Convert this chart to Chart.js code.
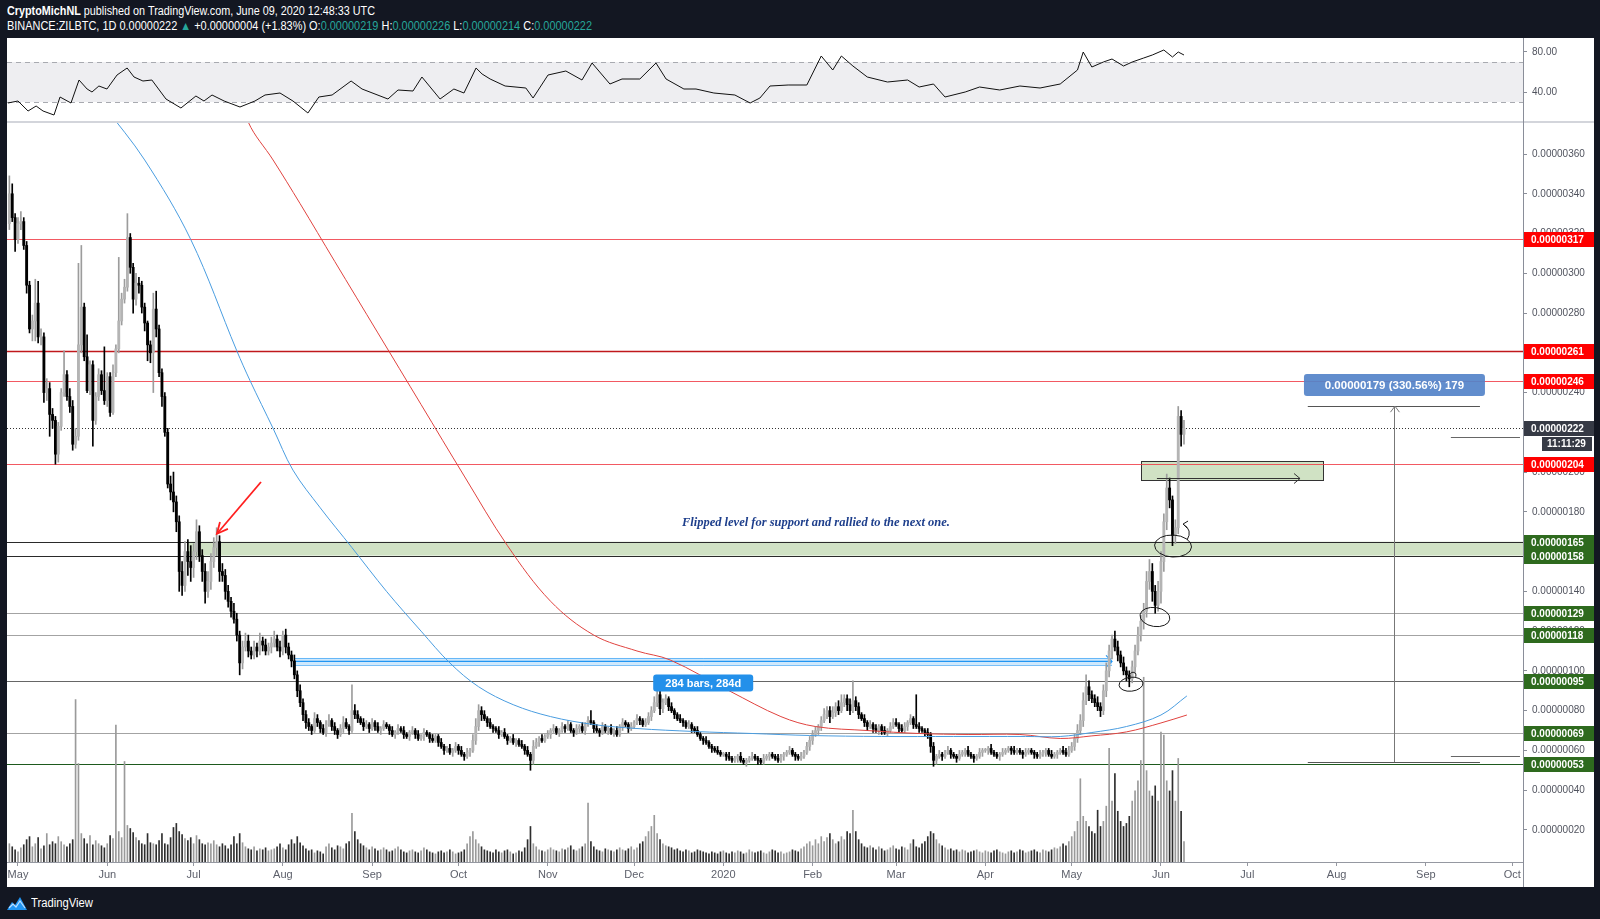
<!DOCTYPE html>
<html><head><meta charset="utf-8">
<title>ZILBTC 1D</title>
<script src="https://cdn.jsdelivr.net/npm/chart.js@4.4.1/dist/chart.umd.min.js"></script>
<style>
html,body{margin:0;padding:0;background:#131722;}
body{width:1600px;height:919px;position:relative;overflow:hidden;font-family:'Liberation Sans',Arial,sans-serif;}
#frame{position:absolute;left:7px;top:38px;width:1587px;height:849px;background:#fff;}
#sep{position:absolute;left:7px;top:121px;width:1587px;height:2px;background:#d3d5db;}
#vline{position:absolute;left:1523px;top:38px;width:1px;height:849px;background:#8a8e99;}
#rsiCanvas{position:absolute;left:7px;top:38px;}
#mainCanvas{position:absolute;left:7px;top:123px;}
.hdr{position:absolute;left:7px;color:#fff;font-size:12px;white-space:nowrap;transform-origin:0 50%;line-height:14px;}
.g{color:#26a69a;}
#foot{position:absolute;left:6px;top:894px;height:18px;color:#fff;display:flex;align-items:center;}
#footTxt{font-size:12px;margin-left:3px;transform-origin:0 50%;white-space:nowrap;}
</style></head><body>
<div id="frame"></div>
<div id="h1" class="hdr" style="top:4px"><b>CryptoMichNL</b> published on TradingView.com, June 09, 2020 12:48:33 UTC</div>
<div id="h2" class="hdr" style="top:19px">BINANCE:ZILBTC, 1D 0.00000222 <span class="g">▲</span> +0.00000004 (+1.83%) O:<span class="g">0.00000219</span> H:<span class="g">0.00000226</span> L:<span class="g">0.00000214</span> C:<span class="g">0.00000222</span></div>
<canvas id="rsiCanvas" width="1587" height="83"></canvas>
<div id="sep"></div>
<canvas id="mainCanvas" width="1587" height="764"></canvas>
<div id="vline"></div>
<div id="foot"><svg width="22" height="16" viewBox="0 0 22 16"><path d="M1 15 L6 7 L9 10 L14 2 L21 15 Z" fill="#2196f3"/><path d="M3 13 L7 9 L10 12 L14 6 L19 13" stroke="#bfe0ff" stroke-width="1.2" fill="none"/></svg><span id="footTxt">TradingView</span></div>
<script>
// ===== DATA (prices in satoshi = 1e-8 BTC) =====
const startDate = '2019-04-28';
const firstOpen = 325;
const closes = [
// Apr 28 - May 31 2019
340,328,317,325,326,314,294,272,276,285,268,268,240,242,229,226,209,223,240,249,238,233,214,218,264,283,258,241,254,226,238,249,241,236,
// Jun 2019
248,230,250,262,276,287,293,318,303,287,295,294,283,275,264,260,282,272,250,238,220,194,190,185,175,150,143,160,155,152,
// Jul 2019
160,170,158,150,140,145,155,162,165,150,148,140,135,130,126,118,104,112,115,110,108,112,110,115,113,110,112,114,116,112,110,
// Aug 2019
118,112,108,105,98,90,84,78,74,72,70,76,74,71,69,73,75,72,70,68,71,74,72,70,80,78,76,74,72,73,71,
// Sep 2019
74,72,70,71,73,72,70,68,69,71,70,68,67,69,70,68,66,67,69,68,66,65,67,64,62,60,61,59,60,62,
// Oct 2019
60,58,57,59,60,65,72,80,78,76,74,72,71,70,68,69,67,65,66,64,65,63,62,60,58,55,62,64,66,65,67,
// Nov 2019
68,70,71,69,70,72,71,73,70,69,71,72,70,73,75,74,71,70,69,72,70,71,69,70,68,72,74,73,71,72,
// Dec 2019
74,76,75,73,74,77,80,84,88,81,84,86,82,80,78,76,75,74,72,73,71,70,68,66,65,64,62,61,60,59,58,
// Jan 2020
58,57,56,55,56,57,55,54,55,56,57,56,55,54,56,57,58,57,56,55,57,58,59,60,58,57,56,57,59,62,65,
// Feb 2020
68,70,72,75,78,80,77,79,82,80,84,86,83,80,85,82,78,76,74,72,73,71,70,72,70,69,70,72,74,
// Mar 2020
73,71,70,72,74,76,73,72,71,70,69,68,62,55,57,58,57,59,60,58,57,56,58,59,60,58,57,56,57,59,60,
// Apr 2020
60,61,59,58,57,58,59,60,61,60,59,60,59,58,59,60,59,58,57,58,59,60,58,57,58,59,60,59,58,60,
// May 2020
62,66,70,75,85,92,88,86,84,82,80,90,100,110,116,112,108,104,100,98,96,102,110,118,125,130,145,150,140,133,140,
// Jun 2020
155,175,192,186,168,172,228,219,222
];
const wickUp = [
9,5,2,3,5,2,2,2,3,12,11,4,2,5,3,3,2,2,2,12,2,4,3,4,41,31,2,11,2,2,2,3,2,22,
2,2,4,2,32,3,4,12,2,2,5,3,2,2,1,2,8,9,2,2,2,2,4,10,3,3,5,5,6,8,
4,6,3,3,4,5,4,5,7,3,4,3,3,2,4,3,2,3,4,3,2,3,2,4,2,3,2,3,4,2,3,
2,3,2,2,3,2,3,2,2,2,1,3,2,1,2,2,3,1,2,1,2,3,2,1,13,3,2,1,2,2,1,
2,1,2,1,2,1,1,2,1,2,1,2,1,1,2,1,2,1,2,1,1,2,1,1,2,1,1,2,1,2,
1,2,1,2,1,3,4,3,2,2,1,2,1,1,2,1,2,1,1,2,1,1,2,1,2,1,3,2,1,2,1,
2,1,2,1,1,2,1,2,1,1,2,1,2,1,2,5,1,2,1,2,1,1,2,1,2,1,2,1,1,2,
1,2,1,1,2,2,2,3,5,3,2,2,1,2,1,1,2,1,1,2,1,1,2,1,1,2,1,1,1,2,1,
1,1,2,1,1,1,2,1,1,1,2,1,1,1,2,1,1,1,1,2,1,1,1,2,1,1,1,2,1,2,2,
2,2,1,2,3,2,2,3,2,3,4,2,2,3,10,2,2,1,2,1,2,1,2,1,1,2,1,2,2,
2,1,2,2,1,2,1,15,2,1,1,2,1,2,1,2,1,1,2,1,1,1,2,1,1,2,1,1,1,2,1,
1,1,2,1,1,1,2,1,1,1,2,1,1,1,2,1,1,1,1,2,1,1,1,2,1,1,1,2,2,2,
2,2,3,3,4,6,3,2,2,3,2,3,4,3,2,4,3,2,3,2,2,3,3,4,3,4,5,6,4,3,5,
5,4,7,5,2,4,5,3,4
];
const wickDown = [
3,2,6,2,3,2,4,2,6,10,3,4,5,4,11,4,5,4,2,2,2,3,3,2,2,4,2,1,2,13,2,2,2,2,
3,2,1,2,2,2,2,2,3,7,3,4,3,4,8,5,20,4,2,5,2,2,4,5,5,10,5,3,7,7,
5,4,3,5,6,3,4,3,4,5,3,4,3,3,2,3,6,3,2,3,2,2,3,2,3,2,2,3,2,2,3,
2,3,2,3,2,3,2,3,3,2,2,1,2,2,1,2,1,2,2,2,1,2,1,2,1,2,2,1,2,1,2,
1,2,1,2,1,1,2,1,2,1,1,2,1,2,1,2,1,1,2,1,2,1,1,2,1,2,1,1,2,1,
2,1,2,1,2,1,2,2,3,1,2,1,2,1,2,1,1,2,1,1,2,1,1,2,1,5,2,1,2,1,1,
1,2,1,1,2,1,2,1,1,2,1,2,1,2,1,1,2,1,2,1,1,2,1,2,1,1,2,1,2,1,
1,1,2,1,1,1,2,1,2,3,2,1,2,1,2,1,1,2,1,1,2,1,1,1,2,1,1,2,1,1,1,
1,2,1,1,1,2,1,1,2,1,1,1,2,1,1,1,2,1,1,1,1,2,1,1,1,2,1,1,1,1,2,
2,1,2,2,1,2,3,1,2,2,1,2,3,2,1,2,2,1,2,2,1,2,1,2,2,1,2,1,1,
1,2,1,1,2,1,2,1,2,1,2,2,3,3,2,1,2,1,1,2,1,2,1,1,2,1,1,2,1,1,2,
1,2,1,1,1,2,1,1,1,2,1,1,1,2,1,1,1,2,1,1,1,2,1,1,1,2,1,1,1,1,
1,2,2,2,3,2,3,2,2,2,3,2,3,3,4,2,3,2,2,3,4,2,3,2,3,4,3,4,5,4,3,
6,5,4,4,5,4,3,6,5
];
const volumes = [
18,15,12,10,14,17,22,25,15,18, 24,13,16,28,17,20,18,25,20,17, 15,18,22,160,97,28,23,18,26,17,
21,18,16,14,18,26,23,135,30,24, 99,36,33,29,24,21,18,17,28,19, 18,17,21,28,18,17,24,34,38,30,
27,23,21,24,18,26,22,18,17,19, 18,21,17,15,18,16,13,17,25,18, 28,19,15,13,12,15,11,13,12,14,
11,12,13,15,18,14,12,17,22,18, 25,19,16,13,11,12,9,11,10,8, 15,18,14,12,16,15,13,18,20,48,
30,22,18,16,14,12,15,13,11,12, 14,12,10,11,13,15,12,10,9,11, 12,10,9,11,14,12,10,9,8,10,
11,9,10,12,10,8,9,10,12,18, 25,30,22,18,15,12,11,10,9,12, 10,9,11,12,10,8,9,11,10,14,
22,35,18,15,12,11,10,12,14,12, 11,10,13,12,14,16,12,11,13,15, 18,58,20,15,12,11,10,13,12,11,
10,12,14,12,11,13,15,12,14,18, 20,25,30,35,46,28,22,18,16,15, 14,12,13,11,10,12,11,9,10,12,
11,10,9,8,10,9,8,10,11,9, 8,10,9,11,10,8,9,12,10,9, 10,11,9,8,10,12,11,9,10,8,
9,10,12,11,10,13,15,18,20,16, 22,18,25,20,24,28,22,18,20,25, 22,30,28,51,30,22,18,15,14,16,
14,12,15,13,11,12,14,16,13,12, 15,14,12,18,22,15,14,18,20,25, 30,28,22,18,16,14,12,13,11,12,
10,12,11,9,10,11,12,10,9,11, 10,9,11,12,10,9,8,10,11,9, 10,12,11,9,10,11,12,10,9,12,
11,10,12,14,13,15,18,16,20,
25,30,40,82,45,40,35,30,28,51,35,40,55,112,60,87,50,40,35,38,45,60,70,80,100,182,90,70,65,75,60,128,125,80,70,90,60,102,50,20
];
// RSI(14) samples (day index from 1 May 2019)
const rsiDays = [-3.5,0,3.5,6.3,8.7,12.5,14.6,18.4,21.2,24,25.7,28.1,30.9,34.4,37.9,40.3,43.4,46.5,51.4,56.6,61.8,64.6,67.4,71.6,77.1,82.3,85.8,91,95.5,100.7,104.5,109.1,115.7,119.5,128.5,132,137.2,140.3,146.6,151.4,154.9,159.1,161.2,164,169.2,176.4,178.9,184.1,190.3,195.9,199.4,205.6,209.8,216,221.6,225.1,231.3,235.5,241.7,249,254.3,257.7,261.2,267.5,
274,279,283,286,290,295,302,309,313,318,322,329,334,341,348,355,362,368,370,373,377,380,384,387,391,394,398,401,403,405];
const rsiValues = [29,31,21,26,21,17,35,29,52,43,40,46,43,57,64,55,51,52,33,24,36,31,37,31,25,31,37,39,31,19,35,37,51,43,33,42,41,55,33,43,39,64,58,53,46,44,34,57,61,52,69,48,53,53,69,53,43,43,39,37,29,34,46,47,
47,76,62,76,66,55,50,52,45,48,35,40,45,42,46,44,48,62,80,65,70,73,66,70,74,77,82,75,80,77];
// moving averages (sampled)
const maBlueDays = [30,44,60,76,80.6,88.6,95.5,105,116,128,140,150,160,172,185,200,215,235,255,275,300,325,350,362,373,385,397,406];
const maBlueVals = [384,357,317,261,246,222,201,182,162,140,120,104,92,83,77,73,71,69.5,68.5,67.5,67,67,67,67,69,72,77.8,87.4];
const maRedDays = [78,80,88.6,98,110,125,140,155,170,185,200,215,226.5,247,265,277,295,313,330,348,362,373,385,397,406];
const maRedVals = [392,376,357,335,306,270,234,198,163,135,118,110,105.5,90,77,72,70,68.5,68,68,66,67.3,69.3,73.8,77.8];
// axes
const monthTickDays = [0,31,61,92,123,153,184,214,245,276,305,336,366,397,427,458,489,519];
const monthTickLabels = ['May','Jun','Jul','Aug','Sep','Oct','Nov','Dec','2020','Feb','Mar','Apr','May','Jun','Jul','Aug','Sep','Oct'];
const priceTicks = [20,40,60,80,100,120,140,160,180,200,220,240,260,280,300,320,340,360];
const rsiTicks = [40,80];
const rsiBandLevels = [30,70];
// horizontal levels
const redLevels = [317,261,246,204];
const greenLevels = [165,158,129,118,95,69,53];
const lastPrice = 222;
const countdown = '11:11:29';
// measurement
const measureFrom = 54.15, measureTo = 233.15, measureBars = 179;
const rangeBars = 284;

// ===== derived OHLC =====
const dayOffset = Math.round((Date.parse(startDate) - Date.parse('2019-05-01'))/86400000);
const opens = closes.map((c,i)=> i===0 ? firstOpen : closes[i-1]);
const highs = closes.map((c,i)=> Math.max(opens[i],c) + wickUp[i]);
const lows  = closes.map((c,i)=> Math.min(opens[i],c) - wickDown[i]);
const dayOf = i => i + dayOffset;
const isUp = i => closes[i] >= opens[i];

// ===== layout constants =====
const XMIN = -3.82, XMAX = 522.75;
const YMIN = 3.86, YMAX = 375.6;
const FONT = "'Liberation Sans', Arial, sans-serif";
const fmt = v => (v/1e8).toFixed(8);

const redLevelStyle = [
  {color:'rgba(240,60,70,0.85)', w:1},
  {color:'#c0181c', w:1.6},
  {color:'rgba(240,60,70,0.85)', w:1},
  {color:'rgba(240,60,70,0.85)', w:1}
];
const greenLevelStyle = [
  {color:'#2a2a2a', w:1},{color:'#2a2a2a', w:1},{color:'#a3a3a3', w:1},{color:'#a3a3a3', w:1},
  {color:'#666', w:1},{color:'#a3a3a3', w:1},{color:'#1e5a1e', w:1}
];

const annotCfg = {
  zones:[{from:58.7, to:null, top:165, bottom:158},{from:390.1, to:453.3, top:205.6, bottom:196}],
  range:{from:96, to:380, top:106.5, bottom:103},
  rangeLabel:{d:238, p:93.9},
  redArrow:{from:[84.4,195], to:[69.1,169]},
  note:{d:230.6, p:174.6, text:'Flipped level for support and rallied to the next one.'},
  measure:{from:448, to:507.8, mid:478.1, labelP:243.8},
  sideLines:[{from:497.7,to:521.7,p:217.6},{from:497.7,to:521.7,p:57.2}],
  ellipses:[{d:386.6,p:93.3,rx:12,ry:7,rot:-0.1},{d:394.9,p:127.1,rx:15,ry:9.5,rot:0.15},{d:401.2,p:162.8,rx:18.5,ry:11,rot:0.05}],
  zoneArrow:{from:395.6,to:445.3,p:196.8}
};

function line(ctx,x1,y1,x2,y2){ctx.beginPath();ctx.moveTo(x1,y1);ctx.lineTo(x2,y2);ctx.stroke();}
function rrect(ctx,x,y,w,h,r){ctx.beginPath();ctx.moveTo(x+r,y);ctx.lineTo(x+w-r,y);ctx.quadraticCurveTo(x+w,y,x+w,y+r);ctx.lineTo(x+w,y+h-r);ctx.quadraticCurveTo(x+w,y+h,x+w-r,y+h);ctx.lineTo(x+r,y+h);ctx.quadraticCurveTo(x,y+h,x,y+h-r);ctx.lineTo(x,y+r);ctx.quadraticCurveTo(x,y,x+r,y);ctx.closePath();}

const annot = {
  id:'annot',
  beforeDatasetsDraw(chart){
    const {ctx, chartArea:a, scales:{x,y}} = chart;
    ctx.save();
    ctx.beginPath(); ctx.rect(a.left,a.top,a.width,a.height); ctx.clip();
    annotCfg.zones.forEach(z=>{
      const x1 = x.getPixelForValue(z.from), x2 = z.to===null ? a.right : x.getPixelForValue(z.to);
      const y1 = y.getPixelForValue(z.top), y2 = y.getPixelForValue(z.bottom);
      ctx.fillStyle='rgba(150,190,125,0.45)';
      ctx.fillRect(x1,y1,x2-x1,y2-y1);
      ctx.strokeStyle='#333'; ctx.lineWidth=1;
      ctx.strokeRect(Math.round(x1)+0.5,Math.round(y1)+0.5,Math.round(x2-x1),Math.round(y2-y1));
    });
    const r = annotCfg.range;
    const rx1=x.getPixelForValue(r.from), rx2=x.getPixelForValue(r.to), ry1=y.getPixelForValue(r.top), ry2=y.getPixelForValue(r.bottom);
    ctx.fillStyle='rgba(33,150,243,0.22)'; ctx.fillRect(rx1,ry1,rx2-rx1,ry2-ry1);
    ctx.strokeStyle='rgba(33,150,243,0.6)'; ctx.lineWidth=1;
    line(ctx,rx1,Math.round(ry1)+0.5,rx2,Math.round(ry1)+0.5);
    line(ctx,rx1,Math.round(ry2)+0.5,rx2,Math.round(ry2)+0.5);
    const rym=(ry1+ry2)/2;
    ctx.strokeStyle='#2196f3'; ctx.lineWidth=1.2;
    line(ctx,rx1,rym,rx2,rym);
    ctx.beginPath(); ctx.moveTo(rx2-6,rym-6); ctx.lineTo(rx2,rym); ctx.lineTo(rx2-6,rym+6); ctx.stroke();
    const drawLevel=(p,st)=>{const yy=Math.round(y.getPixelForValue(p))+0.5;ctx.strokeStyle=st.color;ctx.lineWidth=st.w;line(ctx,a.left,yy,a.right,yy);};
    redLevels.forEach((p,i)=>drawLevel(p,redLevelStyle[i]));
    greenLevels.forEach((p,i)=>drawLevel(p,greenLevelStyle[i]));
    const ly=Math.round(y.getPixelForValue(lastPrice))+0.5;
    ctx.setLineDash([1,2]); ctx.strokeStyle='#333'; ctx.lineWidth=1; line(ctx,a.left,ly,a.right,ly); ctx.setLineDash([]);
    ctx.restore();
  },
  afterDatasetsDraw(chart){
    const {ctx, chartArea:a, scales:{x,y}} = chart;
    const X=d=>x.getPixelForValue(d), Y=p=>y.getPixelForValue(p);
    ctx.save();
    ctx.beginPath(); ctx.rect(a.left,a.top,a.width,a.height); ctx.clip();
    const ra=annotCfg.redArrow; const ax1=X(ra.from[0]),ay1=Y(ra.from[1]),ax2=X(ra.to[0]),ay2=Y(ra.to[1]);
    ctx.strokeStyle='#ff1f1f'; ctx.lineWidth=1.8; line(ctx,ax1,ay1,ax2,ay2);
    const ang=Math.atan2(ay2-ay1,ax2-ax1);
    ctx.beginPath(); ctx.moveTo(ax2-12*Math.cos(ang-0.45),ay2-12*Math.sin(ang-0.45)); ctx.lineTo(ax2,ay2); ctx.lineTo(ax2-12*Math.cos(ang+0.45),ay2-12*Math.sin(ang+0.45)); ctx.stroke();
    const n=annotCfg.note;
    ctx.fillStyle='#1e3f8c'; ctx.font="italic bold 12.5px 'Liberation Serif', 'DejaVu Serif', serif"; ctx.textBaseline='middle'; ctx.textAlign='left';
    ctx.fillText(n.text,X(n.d),Y(n.p));
    const rl=annotCfg.rangeLabel; const lx=X(rl.d), ly=Y(rl.p);
    ctx.fillStyle='#2390ea'; rrect(ctx,lx-50,ly-8.5,100,17,3); ctx.fill();
    ctx.fillStyle='#fff'; ctx.font="bold 11px "+FONT; ctx.textAlign='center';
    ctx.fillText(rangeBars+' bars, '+rangeBars+'d',lx,ly+0.5);
    const m=annotCfg.measure; const mx1=X(m.from), mx2=X(m.to), mm=X(m.mid), my1=Y(measureTo), my2=Y(measureFrom);
    ctx.strokeStyle='#555'; ctx.lineWidth=1;
    line(ctx,mx1,Math.round(my1)+0.5,mx2,Math.round(my1)+0.5);
    line(ctx,mx1,Math.round(my2)+0.5,mx2,Math.round(my2)+0.5);
    ctx.strokeStyle='#777';
    line(ctx,Math.round(mm)+0.5,my2,Math.round(mm)+0.5,my1);
    ctx.beginPath(); ctx.moveTo(mm-4,my1+6); ctx.lineTo(mm+0.5,my1); ctx.lineTo(mm+5,my1+6); ctx.stroke();
    const pct=((measureTo-measureFrom)/measureFrom*100).toFixed(2);
    const mlY=Y(m.labelP);
    ctx.fillStyle='rgba(84,131,201,0.92)'; rrect(ctx,mm-90.5,mlY-11,181,22,3); ctx.fill();
    ctx.fillStyle='#fff'; ctx.font="bold 11.5px "+FONT; ctx.textAlign='center';
    ctx.fillText(fmt(measureTo-measureFrom)+' ('+pct+'%) '+measureBars,mm,mlY+0.5);
    ctx.strokeStyle='#666';
    annotCfg.sideLines.forEach(s=>{const yy=Math.round(Y(s.p))+0.5; line(ctx,X(s.from),yy,X(s.to),yy);});
    ctx.strokeStyle='#1a1a1a'; ctx.lineWidth=1;
    annotCfg.ellipses.forEach(e=>{ctx.beginPath();ctx.ellipse(X(e.d),Y(e.p),e.rx,e.ry,e.rot,0,Math.PI*2);ctx.stroke();});
    const e3=annotCfg.ellipses[2]; const ex=X(e3.d), ey=Y(e3.p);
    ctx.beginPath(); ctx.moveTo(ex+14,ey-6); ctx.quadraticCurveTo(ex+20,ey-16,ex+10,ey-22); ctx.stroke();
    ctx.beginPath(); ctx.moveTo(ex+15,ey-25); ctx.lineTo(ex+10,ey-22); ctx.lineTo(ex+14,ey-18); ctx.stroke();
    const e1=annotCfg.ellipses[0]; const e1x=X(e1.d), e1y=Y(e1.p);
    ctx.beginPath(); ctx.arc(e1x+2,e1y-9,3,Math.PI*1.1,Math.PI*2.2); ctx.stroke();
    const za=annotCfg.zoneArrow; const zx1=X(za.from), zx2=X(za.to), zy=Math.round(Y(za.p))+0.5;
    ctx.strokeStyle='#333'; line(ctx,zx1,zy,zx2,zy);
    ctx.beginPath(); ctx.moveTo(zx2-6,zy-5); ctx.lineTo(zx2,zy); ctx.lineTo(zx2-6,zy+5); ctx.stroke();
    ctx.restore();
  },
  afterDraw(chart){
    const {ctx, chartArea:a, scales:{y}} = chart;
    const bx=a.right+1, bw=70, bh=15;
    ctx.save();
    ctx.font="bold 10px "+FONT; ctx.textAlign='left'; ctx.textBaseline='middle';
    const box=(p,fill,txt)=>{const yy=Math.round(y.getPixelForValue(p));ctx.fillStyle=fill;ctx.fillRect(bx,yy-7,bw,bh);ctx.fillStyle='#fff';ctx.fillText(txt,bx+7,yy+1);};
    redLevels.forEach(p=>box(p,'#ff0000',fmt(p)));
    greenLevels.forEach(p=>box(p,'#2e6a1e',fmt(p)));
    box(lastPrice,'#363a45',fmt(lastPrice));
    const yy=Math.round(y.getPixelForValue(lastPrice))+9;
    ctx.fillStyle='#363a45'; ctx.fillRect(bx+18,yy,bw-20,14);
    ctx.fillStyle='#fff'; ctx.fillText(countdown,bx+23,yy+7.5);
    ctx.restore();
  }
};

const rsiBand = {
  id:'rsiBand',
  beforeDatasetsDraw(chart){
    const {ctx, chartArea:a, scales:{y}} = chart;
    const y1=y.getPixelForValue(rsiBandLevels[1]), y2=y.getPixelForValue(rsiBandLevels[0]);
    ctx.save();
    ctx.fillStyle='#eeeef1'; ctx.fillRect(a.left,y1,a.width,y2-y1);
    ctx.strokeStyle='#a8aab0'; ctx.lineWidth=1; ctx.setLineDash([5,4]);
    line(ctx,a.left,Math.round(y1)+0.5,a.right,Math.round(y1)+0.5);
    line(ctx,a.left,Math.round(y2)+0.5,a.right,Math.round(y2)+0.5);
    ctx.restore();
  }
};

// ===== charts =====
const volMax = Math.max(...volumes) * 4.0;
const upC='#9c9c9c', dnC='#000000';
new Chart(document.getElementById('mainCanvas'),{
  type:'bar',
  data:{datasets:[
    {type:'bar', label:'Volume', yAxisID:'yv', order:5, grouped:false, barThickness:1,
     data:volumes.map((v,i)=>({x:dayOf(i),y:v})),
     backgroundColor:c=>isUp(c.dataIndex)?'#9a9a9a':'#2e2e2e'},
    {type:'bar', label:'Wicks', yAxisID:'y', order:4, grouped:false, barThickness:1, minBarLength:1,
     data:closes.map((c,i)=>({x:dayOf(i),y:[lows[i],highs[i]]})),
     backgroundColor:c=>isUp(c.dataIndex)?upC:dnC},
    {type:'bar', label:'Bodies', yAxisID:'y', order:3, grouped:false, barThickness:2.2, minBarLength:1,
     data:closes.map((c,i)=>({x:dayOf(i),y:[opens[i],c]})),
     backgroundColor:c=>isUp(c.dataIndex)?'#b4b4b4':dnC},
    {type:'line', label:'MA slow', yAxisID:'y', order:1, borderColor:'#e0433f', borderWidth:1, pointRadius:0, tension:0.35,
     data:maRedDays.map((d,i)=>({x:d,y:maRedVals[i]}))},
    {type:'line', label:'MA fast', yAxisID:'y', order:0, borderColor:'#4a9de0', borderWidth:1, pointRadius:0, tension:0.35,
     data:maBlueDays.map((d,i)=>({x:d,y:maBlueVals[i]}))}
  ]},
  options:{
    responsive:false, animation:false, devicePixelRatio:1, events:[],
    layout:{padding:0},
    plugins:{legend:{display:false}, tooltip:{enabled:false}},
    scales:{
      x:{type:'linear', min:XMIN, max:XMAX, offset:false, position:'bottom',
         grid:{display:true, drawOnChartArea:false, drawTicks:true, tickLength:4, color:'#9598a1', offset:false},
         border:{display:true, color:'#9598a1'},
         ticks:{autoSkip:false, maxRotation:0, padding:2, color:'#5d606b', font:{size:11, family:FONT}, callback:(v,i)=>monthTickLabels[i]},
         afterBuildTicks:s=>{s.ticks=monthTickDays.map(v=>({value:v}));},
         afterFit:s=>{s.height=25; s.paddingLeft=0; s.paddingRight=0;}},
      y:{type:'linear', position:'right', min:YMIN, max:YMAX,
         grid:{display:true, drawOnChartArea:false, drawTicks:true, tickLength:4, color:'#8a8e99'},
         border:{display:true, color:'#8a8e99'},
         ticks:{padding:5, color:'#50535e', font:{size:10, family:FONT}, callback:v=>fmt(v)},
         afterBuildTicks:s=>{s.ticks=priceTicks.map(v=>({value:v}));},
         afterFit:s=>{s.width=71; s.paddingTop=0; s.paddingBottom=0;}},
      yv:{type:'linear', display:false, min:0, max:volMax}
    }
  },
  plugins:[annot]
});

new Chart(document.getElementById('rsiCanvas'),{
  type:'line',
  data:{datasets:[{label:'RSI', data:rsiDays.map((d,i)=>({x:d,y:rsiValues[i]})), borderColor:'#111', borderWidth:1, pointRadius:0, tension:0}]},
  options:{
    responsive:false, animation:false, devicePixelRatio:1, events:[],
    layout:{padding:0},
    plugins:{legend:{display:false}, tooltip:{enabled:false}},
    scales:{
      x:{type:'linear', min:XMIN, max:XMAX, display:false},
      y:{type:'linear', position:'right', min:11, max:94,
         grid:{display:true, drawOnChartArea:false, drawTicks:true, tickLength:4, color:'#8a8e99'},
         border:{display:true, color:'#8a8e99'},
         ticks:{padding:5, color:'#50535e', font:{size:10, family:FONT}, callback:v=>v.toFixed(2)},
         afterBuildTicks:s=>{s.ticks=rsiTicks.map(v=>({value:v}));},
         afterFit:s=>{s.width=71; s.paddingTop=0; s.paddingBottom=0;}}
    }
  },
  plugins:[rsiBand]
});

function fitW(id,w){const el=document.getElementById(id);const r=el.getBoundingClientRect().width;if(r>0)el.style.transform='scaleX('+(w/r)+')';}
fitW('h1',368); fitW('h2',585); fitW('footTxt',62);
</script>
</body></html>
